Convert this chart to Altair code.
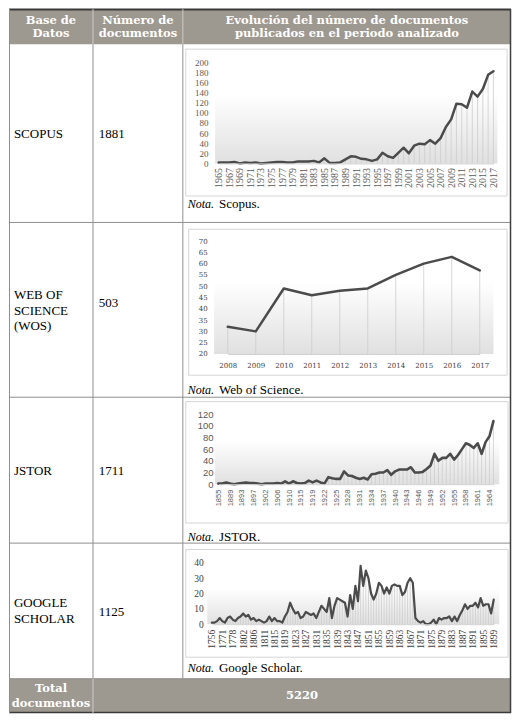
import altair as alt
import pandas as pd

# ---------------- data ----------------
SCOPUS_YEARS = [str(y) for y in range(1965, 2018)]
SCOPUS_N = [2, 2, 2, 3, 0, 2, 1, 2, 0, 1, 2, 3, 3, 2, 2, 4, 4, 4, 5, 2,
            10, 1, 1, 2, 8,
            14, 13, 9, 8, 5, 8, 21, 14, 11, 21, 31, 20, 35, 39, 38, 46, 39, 50,
            72, 87, 118, 117, 110, 142, 132, 147, 175, 182]
SCOPUS_LABELS = [str(y) for y in range(1965, 2018, 2)]

WOS_YEARS = ['2008', '2009', '2010', '2011', '2012', '2013', '2014', '2015', '2016', '2017']
WOS_N = [32, 30, 49, 46, 48, 49, 55, 60, 63, 57]
WOS_LABELS = WOS_YEARS

JSTOR_YEARS = ['1855', '1880', '1886', '1889', '1890', '1891', '1893', '1894', '1896',
               '1897', '1899', '1900', '1902', '1903', '1905', '1906', '1907', '1908',
               '1910', '1911', '1913', '1915', '1916', '1917', '1919', '1920', '1921'] + \
              [str(y) for y in range(1922, 1966)]
JSTOR_N = [1, 1, 3, 1, 0, 1, 2, 3, 2, 2, 1, 0, 1, 1, 1, 2, 1, 5, 1, 5, 2, 1, 2, 6, 3, 6, 3, 1,
           12, 10, 9, 9, 22, 15, 14, 11, 9, 11, 8,
           17, 18, 20, 20, 24, 16, 22, 25, 25, 25, 29, 20, 20, 21, 26,
           32, 52, 40, 45, 45, 52, 42, 50, 60, 70, 67, 62, 70, 52, 72, 82, 108]
JSTOR_LABELS = ['1855', '1889', '1893', '1897', '1902', '1906', '1910', '1915', '1919',
                '1922', '1925', '1928', '1931', '1934', '1937', '1940', '1943', '1946',
                '1949', '1952', '1955', '1958', '1961', '1964']

GOOGLE_YEARS = ['1756', '1760', '1765', '1768', '1771', '1773', '1775', '1776', '1778',
                '1785', '1790', '1797', '1802', '1803', '1804', '1805', '1806', '1807',
                '1808', '1810'] + [str(y) for y in range(1811, 1900)]
GOOGLE_N = [1, 1, 2, 4, 2, 1, 4, 5, 3, 2,
            4, 5, 7, 5, 6, 3, 4, 2, 3, 2,
            1, 2, 5, 2, 4, 2, 2, 1, 5, 8,
            14, 10, 7, 8, 4, 5, 8, 7, 6, 7,
            4, 8, 12, 10, 8, 17, 4, 12, 17, 16,
            15, 14, 5, 19, 10, 25, 15, 38, 25, 35,
            30, 20, 16, 20, 27, 25, 20, 24, 20, 25,
            26, 25, 25, 19, 21, 27, 30, 27, 4, 2,
            1, 2, 0, 0, 1, 3, 0, 4, 3, 4,
            4, 5, 2, 5, 2, 6, 9, 13, 10, 12,
            12, 14, 11, 17, 12, 13, 13, 7, 16]
GOOGLE_LABELS = ['1756', '1771', '1778', '1802', '1806'] + [str(y) for y in range(1811, 1900, 4)]

TABLE_HEAD = [['Base de', 'Datos'], ['Número de', 'documentos'],
              ['Evolución del número de documentos', 'publicados en el periodo analizado']]
DB_NAMES = [['SCOPUS'], ['WEB OF', 'SCIENCE', '(WOS)'], ['JSTOR'], ['GOOGLE', 'SCHOLAR']]
DB_COUNTS = ['1881', '503', '1711', '1125']
DB_NOTES = ['Scopus.', 'Web of Science.', 'JSTOR.', 'Google Scholar.']
TOTAL = '5220'

# ---------------- layout (reference pixels -> chart pixels) ----------------
W, H = 502, 704
SX, SY = W / 514.0, H / 719.0


def X(v):
    return round((v - 3) * SX, 2)


def Y(v):
    return round((v - 3) * SY, 2)


ONE = alt.Data(values=[{'k': 1}])
HEAD_BG = '#9e9990'
GRID = '#8f8f8f'
SERIF = 'Liberation Serif, Times New Roman, serif'
SANS = 'Liberation Sans, Arial, sans-serif'
HFONT = 'DejaVu Serif, serif'


def rect(x0, y0, x1, y1, **kw):
    return alt.Chart(ONE).mark_rect(**kw).encode(
        x=alt.value(X(x0)), x2=alt.value(X(x1)), y=alt.value(Y(y0)), y2=alt.value(Y(y1)))


def hline(x0, x1, y, color=GRID, w=1.0):
    return alt.Chart(ONE).mark_rule(color=color, strokeWidth=w).encode(
        x=alt.value(X(x0)), x2=alt.value(X(x1)), y=alt.value(Y(y)))


def vline(x, y0, y1, color=GRID, w=1.0):
    return alt.Chart(ONE).mark_rule(color=color, strokeWidth=w).encode(
        x=alt.value(X(x)), y=alt.value(Y(y0)), y2=alt.value(Y(y1)))


def txt(s, x, y, size=13, font=SERIF, weight='normal', style='normal', color='black', align='left'):
    return alt.Chart(ONE).mark_text(text=s, align=align, baseline='alphabetic', font=font,
                                    fontSize=size, fontWeight=weight, fontStyle=style,
                                    color=color).encode(x=alt.value(X(x)), y=alt.value(Y(y)))


GRAD = alt.Gradient(gradient='linear',
                    stops=[alt.GradientStop(color='#ffffff', offset=0),
                           alt.GradientStop(color='#e0e0e0', offset=1)],
                    x1=0, x2=0, y1=0, y2=1)


def mini(years, vals, labels, xr, yr, dom, yticks, axis_x, ypad, xpad, xangle,
         xfont, xsize, yfont, ysize, lcolor, lw):
    df = pd.DataFrame({'year': years, 'n': vals})
    xax = alt.Axis(orient='bottom', offset=round(Y(yr[0]) - H, 2), values=labels,
                   labelAngle=xangle, labelFont=xfont, labelFontSize=xsize, labelColor=lcolor,
                   labelPadding=xpad, ticks=False, tickSize=0, domain=True,
                   domainColor='#d0d0d0', domainWidth=1, grid=False, labelOverlap=False,
                   zindex=1, title=None)
    yax = alt.Axis(orient='left', offset=-X(axis_x), values=yticks, ticks=False, tickSize=0,
                   domain=False, grid=False, labelFont=yfont, labelFontSize=ysize,
                   labelColor=lcolor, labelPadding=ypad, zindex=1, title=None)
    xe = alt.X('year:O', sort=None, title=None,
               scale=alt.Scale(type='point', range=[X(xr[0]), X(xr[1])], padding=0), axis=xax)
    ye = alt.Y('n:Q', title=None,
               scale=alt.Scale(domain=list(dom), range=[Y(yr[0]), Y(yr[1])], nice=False, zero=False),
               axis=yax)
    drops = alt.Chart(df).mark_rule(color='#cdcdcd', strokeWidth=0.8).encode(
        x=xe, y=ye, y2=alt.datum(dom[0]))
    line = alt.Chart(df).mark_line(color='#4b4b4b', strokeWidth=lw, strokeJoin='round',
                                   strokeCap='round').encode(x=xe, y=ye)
    return alt.layer(drops, line)


deco = [
    rect(3, 3, 517, 39, fill=HEAD_BG),
    rect(3, 687, 517, 722, fill=HEAD_BG),
    # chart boxes
    rect(184, 44, 513, 194, fill='white', stroke='#d6d6d6', strokeWidth=1),
    rect(187, 228, 513, 377, fill='white', stroke='#d6d6d6', strokeWidth=1),
    rect(184, 404, 514, 528, fill='white', stroke='#d6d6d6', strokeWidth=1),
    rect(184, 555, 514, 665, fill='white', stroke='#d6d6d6', strokeWidth=1),
    # plot-area gradients
    rect(214, 90, 503, 160.7, fill=GRAD),
    rect(213, 282, 499, 355.3, fill=GRAD),
    rect(214, 443, 505, 488.3, fill=GRAD),
    rect(206, 595, 505, 631.3, fill=GRAD),
    # table lines
    hline(3, 517, 3.5, '#3a3a3a', 2),
    hline(3, 517, 721.5, '#3a3a3a', 1.5),
    hline(3, 517, 221), hline(3, 517, 399.5), hline(3, 517, 548.5), hline(3, 517, 687),
    vline(3.5, 3, 722), vline(516.5, 3, 722, '#404040', 1.5),
    vline(89, 39, 687), vline(181, 39, 687),
    vline(89, 3, 39, '#cfcac4'), vline(181, 3, 39, '#cfcac4'),
    vline(89, 687, 722, '#cfcac4'),
]

minis = [
    mini(SCOPUS_YEARS, SCOPUS_N, SCOPUS_LABELS, (217.7, 499), (160.7, 57.3), (0, 200),
         list(range(0, 201, 20)), 214, 7, 4, 270, SERIF, 10, SERIF, 9, '#595959', 2.5),
    mini(WOS_YEARS, WOS_N, WOS_LABELS, (227, 485), (355.3, 240), (20, 70),
         list(range(20, 71, 5)), 213, 7, 8, 0, HFONT, 7, HFONT, 7, '#404040', 2.5),
    mini(JSTOR_YEARS, JSTOR_N, JSTOR_LABELS, (217.3, 499), (488.3, 416.7), (0, 120),
         list(range(0, 121, 20)), 215, 3, 5, 270, SANS, 7.5, SANS, 9.5,
         '#595959', 2.6),
    mini(GOOGLE_YEARS, GOOGLE_N, GOOGLE_LABELS, (210.7, 499.3), (631.3, 568.7), (0, 40),
         list(range(0, 41, 10)), 207, 5, 5, 270, SERIF, 9.5, SERIF, 9.5, '#404040', 2.2),
]

texts = []
head_x = [46, 135, 349]
for cx, lines in zip(head_x, TABLE_HEAD):
    for i, s in enumerate(lines):
        texts.append(txt(s, cx, 18 + 14 * i, size=11.5, font=HFONT, weight='bold',
                         color='white', align='center'))

name_y = [[134.5], [299.5, 315.5, 331], [478.5], [613.5, 630.5]]
count_y = [134.5, 307, 478.5, 622.5]
note_y = [206.5, 396.5, 546, 680]
for names, ys, cnt, cy, note, ny in zip(DB_NAMES, name_y, DB_COUNTS, count_y, DB_NOTES, note_y):
    for s, yy in zip(names, ys):
        texts.append(txt(s, 8, yy))
    texts.append(txt(cnt, 95, cy))
    texts.append(txt('Nota.', 186, ny, size=12, style='italic'))
    texts.append(txt(note, 218, ny, size=13))

texts.append(txt('Total', 46, 700.5, size=11.5, font=HFONT, weight='bold', color='white', align='center'))
texts.append(txt('documentos', 46, 715.5, size=11.5, font=HFONT, weight='bold', color='white', align='center'))
texts.append(txt(TOTAL, 303, 707.5, size=11.5, font=HFONT, weight='bold', color='white', align='center'))

chart = alt.layer(*deco, *minis, *texts).properties(
    width=W, height=H, padding=0
).resolve_scale(x='independent', y='independent').configure_view(stroke=None)

chart.save('out.html', embed_options={'renderer': 'svg', 'actions': False})
